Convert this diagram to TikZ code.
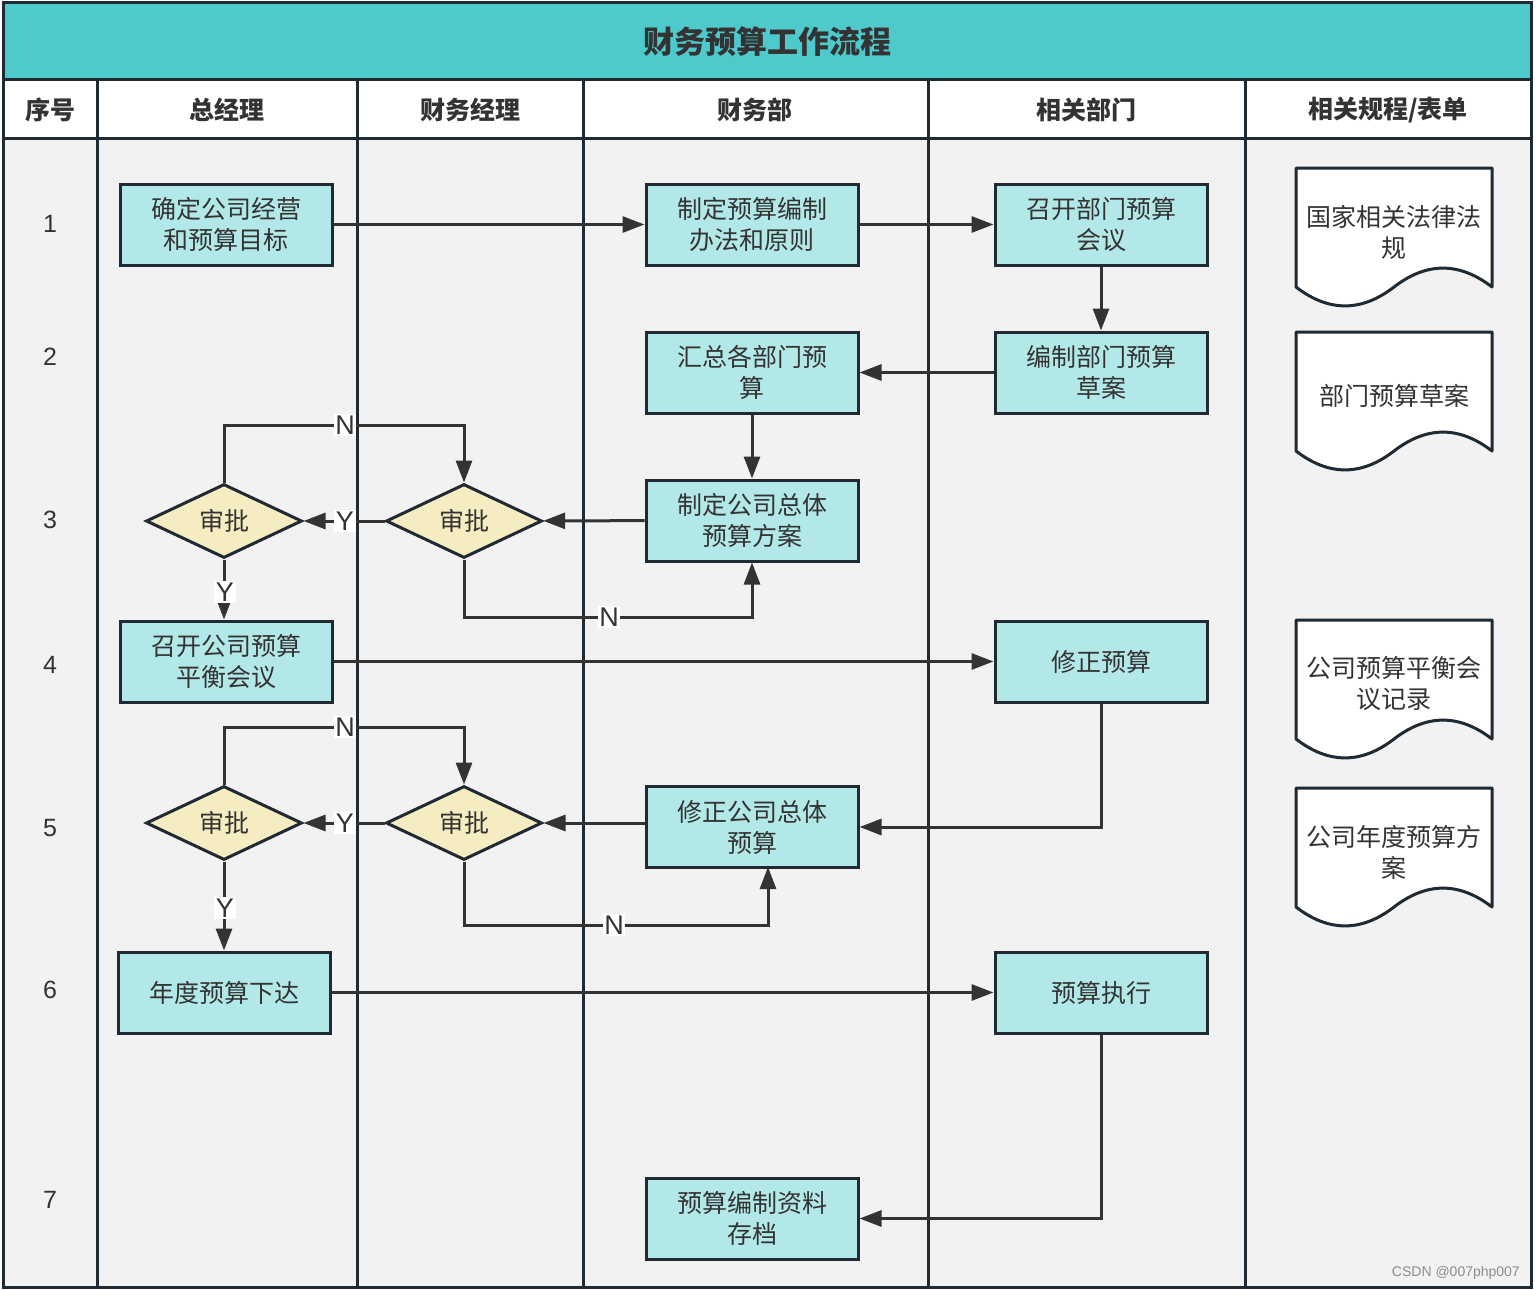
\documentclass[tikz,border=0pt]{standalone}
\usepackage{fontspec}
\setmainfont{Noto Sans CJK SC}
\newfontfamily\latinf{Liberation Sans}
\usetikzlibrary{arrows.meta,shapes.geometric}
\definecolor{titlec}{HTML}{4ECACD}
\definecolor{bodyc}{HTML}{F2F2F2}
\definecolor{gridc}{HTML}{1F2A33}
\definecolor{boxfill}{HTML}{B3E8E9}
\definecolor{decfill}{HTML}{F5EDC1}
\definecolor{txtc}{HTML}{333333}
\definecolor{arrc}{HTML}{333333}
\newcommand\mydocshape[4]{%
  \draw[gridc, line width=3pt, fill=white, line join=round]
    (#1,#2) -- ++(196,0) -- ++(0,119)
    .. controls ++(-32.7,-25.2) and ++(32.7,-25.2) .. ++(-98,0)
    .. controls ++(-32.7,25.2) and ++(32.7,25.2) .. ++(-98,0) -- cycle;
  \node[doctext] (#3) at (#1+98,#2+64) {#4};
}
\begin{document}
\begin{tikzpicture}[x=1pt,y=-1pt,
  box/.style={draw=gridc, line width=3pt, fill=boxfill, minimum width=212pt, minimum height=81pt,
    align=center, text=txtc, font=\fontsize{25}{31}\selectfont, inner sep=0pt},
  dec/.style={draw=gridc, line width=3pt, fill=decfill, diamond, minimum width=156pt, minimum height=74pt,
    inner sep=0pt, text=txtc, font=\fontsize{25}{31}\selectfont},
  doctext/.style={align=center, text=txtc, font=\fontsize{25}{31}\selectfont, inner sep=0pt},
  head/.style={text=txtc, font=\fontsize{25}{30}\selectfont\bfseries, inner sep=0pt},
  rownum/.style={text=txtc, font=\latinf\fontsize{25}{30}\selectfont, inner sep=0pt},
  lbl/.style={fill=white, text=txtc, font=\latinf\fontsize{27}{30}\selectfont, inner sep=1.5pt},
  conn/.style={draw=arrc, line width=3pt, -{Triangle[length=22pt,width=16pt]}},
  grid/.style={draw=gridc, line width=3pt}
]
\useasboundingbox (0,0) rectangle (1535,1290);
% background
\fill[bodyc] (3,138) rectangle (1531,1287);
\fill[white] (3,80) rectangle (1531,138);
\fill[titlec] (3,3) rectangle (1531,80);
\draw[grid] (3,80) -- (1531,80);
\draw[grid] (3,138) -- (1531,138);
\foreach \xx in {97,357,583,928,1245} {\draw[grid] (\xx,80) -- (\xx,1287);}
\draw[grid] (3,3) rectangle (1531,1287);
% title and headers
\node[text=txtc, font=\fontsize{31}{36}\selectfont\bfseries, inner sep=0pt] (title) at (767,42) {财务预算工作流程};
\node[head] (h0) at (50,110) {序号};
\node[head] (h1) at (227,110) {总经理};
\node[head] (h2) at (470,110) {财务经理};
\node[head] (h3) at (755,110) {财务部};
\node[head] (h4) at (1086,110) {相关部门};
\node[head] (h5) at (1388,110) {相关规程/表单};
% row numbers
\node[rownum] (r1) at (50,224) {1};
\node[rownum] (r2) at (50,357) {2};
\node[rownum] (r3) at (50,520) {3};
\node[rownum] (r4) at (50,665) {4};
\node[rownum] (r5) at (50,828) {5};
\node[rownum] (r6) at (50,990) {6};
\node[rownum] (r7) at (50,1200) {7};
% boxes
\node[box] (A1) at (226,224.5) {确定公司经营\\和预算目标};
\node[box] (B1) at (752,224.5) {制定预算编制\\办法和原则};
\node[box] (C1) at (1101,224.5) {召开部门预算\\会议};
\node[box] (C2) at (1101,372.5) {编制部门预算\\草案};
\node[box] (B2) at (752,372.5) {汇总各部门预\\算};
\node[box] (B3) at (752,520.5) {制定公司总体\\预算方案};
\node[dec] (D3a) at (224,521) {审批};
\node[dec] (D3b) at (464,521) {审批};
\node[box] (A4) at (226,661.5) {召开公司预算\\平衡会议};
\node[box] (C4) at (1101,661.5) {修正预算};
\node[dec] (D5a) at (224,823) {审批};
\node[dec] (D5b) at (464,823) {审批};
\node[box] (B5) at (752,827) {修正公司总体\\预算};
\node[box] (A6) at (224,992.5) {年度预算下达};
\node[box] (C6) at (1101,992.5) {预算执行};
\node[box] (B7) at (752,1218.5) {预算编制资料\\存档};
% documents
\mydocshape{1296}{168}{doc1}{国家相关法律法\\规}
\mydocshape{1296}{332}{doc2}{部门预算草案}
\mydocshape{1296}{620}{doc3}{公司预算平衡会\\议记录}
\mydocshape{1296}{788}{doc4}{公司年度预算方\\案}
% helper coordinates
\coordinate (n3) at (345,425);
\coordinate (n3b) at (609,617);
\coordinate (n5) at (345,727);
\coordinate (n5b) at (614,925);
\coordinate (b5s) at (768,867);
% connectors
\draw[conn] (A1) -- (B1);
\draw[conn] (B1) -- (C1);
\draw[conn] (C1) -- (C2);
\draw[conn] (C2) -- (B2);
\draw[conn] (B2) -- (B3);
\draw[conn] (B3) -- (D3b);
\draw[conn] (D3b) -- (D3a);
\draw[conn] (D3a.north) |- (n3) -| (D3b.north);
\draw[conn] (D3b.south) |- (n3b) -| (B3.south);
\draw[conn] (D3a.south) -- (D3a.south |- A4.north);
\draw[conn] (A4) -- (C4);
\draw[conn] (C4.south) |- (B5.east);
\draw[conn] (B5.west |- D5b.east) -- (D5b.east);
\draw[conn] (D5b) -- (D5a);
\draw[conn] (D5a.north) |- (n5) -| (D5b.north);
\draw[conn] (D5b.south) |- (n5b) -| (b5s);
\draw[conn] (D5a.south) -- (A6.north);
\draw[conn] (A6) -- (C6);
\draw[conn] (C6.south) |- (B7.east);
% labels
\node[lbl] (l1) at (n3) {N};
\node[lbl] (l2) at (345,521) {Y};
\node[lbl] (l3) at (n3b) {N};
\node[lbl] (l4) at (225,592) {Y};
\node[lbl] (l5) at (n5) {N};
\node[lbl] (l6) at (345,823) {Y};
\node[lbl] (l7) at (n5b) {N};
\node[lbl] (l8) at (225,908) {Y};
% footer
\node[anchor=east, text=black!45, font=\latinf\fontsize{14}{16}\selectfont, inner sep=0pt] (csdn) at (1520,1273) {CSDN @007php007};
\end{tikzpicture}
\end{document}
